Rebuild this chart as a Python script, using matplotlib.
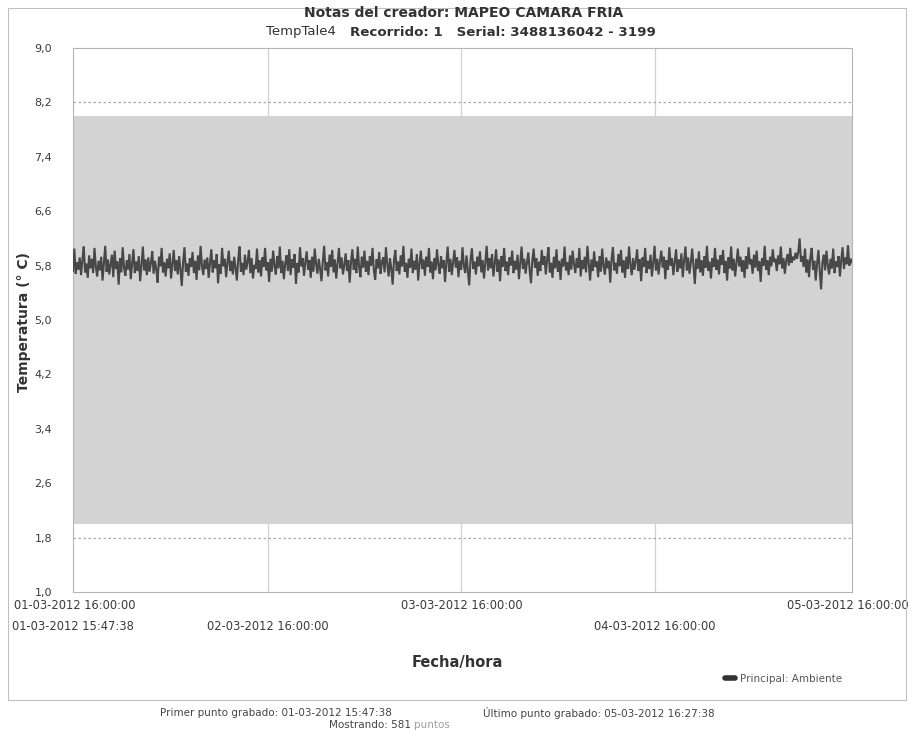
import matplotlib
matplotlib.use("Agg")
import matplotlib.pyplot as plt
import matplotlib.patches as mpatches
from matplotlib.lines import Line2D
import pandas as pd

# ---------------- data ----------------
start_time = "2012-03-01 15:47:38"
end_time = "2012-03-05 16:27:38"
interval = "10min"

seg1 = [5.72, 6.05, 5.68, 5.85, 5.74, 5.92, 5.66, 5.88, 6.08, 5.70, 5.83, 5.62, 5.95, 5.76, 5.90, 5.69, 6.06, 5.78, 5.64, 5.87,
        5.73, 5.93, 5.58, 5.84, 6.09, 5.71, 5.89, 5.67, 5.81, 5.96, 5.63, 6.02, 5.75, 5.86, 5.52, 5.91, 5.70, 6.07, 5.77, 5.65,
        5.88, 5.74, 5.97, 5.60, 5.83, 6.04, 5.69, 5.86, 5.72, 5.94, 5.57, 5.80, 6.08, 5.73, 5.89, 5.66, 5.92, 5.71, 5.84, 6.01,
        5.68, 5.87, 5.75, 5.55, 5.93, 5.79, 6.06, 5.70, 5.85, 5.64, 5.90, 5.76, 5.98, 5.61, 5.82, 6.03, 5.72, 5.88, 5.67, 5.94,
        5.74, 5.50, 5.86, 6.07, 5.71, 5.83, 5.65, 5.91, 5.78, 6.00, 5.69, 5.87, 5.59, 5.95, 5.73, 6.09, 5.80, 5.66, 5.89, 5.75,
        5.92, 5.62, 5.84, 6.04, 5.70, 5.88, 5.76, 5.97, 5.54, 5.82, 5.68, 6.06, 5.79, 5.90, 5.63, 5.85, 6.02, 5.72, 5.87, 5.67,
        5.93, 5.77, 5.58, 5.89, 6.08, 5.71, 5.84, 5.66, 5.96, 5.74, 5.86, 6.03, 5.69, 5.91, 5.61, 5.81, 5.75, 6.05, 5.70, 5.88]
seg2 = [5.64, 5.92, 5.78, 6.06, 5.73, 5.85, 5.56, 5.90, 5.71, 6.02, 5.80, 5.67, 5.94, 5.76, 6.08, 5.69, 5.87, 5.60, 5.83, 5.95,
        5.72, 6.04, 5.66, 5.89, 5.77, 5.97, 5.53, 5.84, 5.70, 6.07, 5.79, 5.91, 5.65, 5.86, 6.01, 5.74, 5.88, 5.62, 5.93, 5.71,
        6.05, 5.82, 5.68, 5.90, 5.75, 5.57, 5.87, 6.09, 5.73, 5.85, 5.64, 5.96, 5.78, 6.03, 5.70, 5.89, 5.61, 5.84, 6.06, 5.76,
        5.92, 5.67, 5.81, 5.98, 5.72, 5.88, 5.55, 5.86, 6.04, 5.74, 5.90, 5.69, 6.08, 5.79, 5.63, 5.93, 5.77, 6.02, 5.71, 5.87,
        5.66, 5.94, 5.80, 6.06, 5.73, 5.59, 5.89, 5.76, 6.00, 5.68, 5.85, 5.92, 5.70, 6.07, 5.82, 5.64, 5.91, 5.75, 5.52, 5.88,
        6.03, 5.72, 5.86, 5.67, 5.95, 5.79, 6.09, 5.71, 5.84, 5.62, 5.90, 5.77, 6.05, 5.69, 5.87, 5.74, 5.97, 5.58, 5.83, 6.02,
        5.75, 5.89, 5.65, 5.93, 5.78, 6.06, 5.70, 5.86, 5.60, 5.91, 5.73, 6.04, 5.81, 5.68, 5.94, 5.76, 5.88, 5.56, 5.85, 6.08]
seg3 = [5.71, 5.90, 5.66, 5.84, 6.03, 5.77, 5.92, 5.63, 5.87, 5.74, 6.07, 5.80, 5.69, 5.95, 5.72, 5.51, 5.89, 6.05, 5.75, 5.86,
        5.67, 5.93, 5.79, 6.01, 5.70, 5.88, 5.61, 5.85, 6.09, 5.73, 5.91, 5.76, 5.97, 5.64, 5.83, 6.04, 5.71, 5.89, 5.57, 5.94,
        5.78, 6.06, 5.72, 5.86, 5.66, 5.92, 5.80, 6.02, 5.69, 5.87, 5.74, 5.96, 5.60, 5.84, 6.08, 5.75, 5.90, 5.68, 5.85, 5.99,
        5.73, 5.54, 5.88, 6.05, 5.77, 5.91, 5.65, 5.86, 5.72, 6.03, 5.81, 5.94, 5.67, 5.89, 6.07, 5.70, 5.84, 5.62, 5.93, 5.76,
        6.04, 5.71, 5.87, 5.59, 5.90, 5.79, 6.08, 5.73, 5.85, 5.66, 5.95, 5.74, 6.02, 5.82, 5.69, 5.91, 5.77, 6.06, 5.64, 5.88,
        5.75, 5.93, 5.70, 6.09, 5.83, 5.58, 5.89, 5.72, 6.01, 5.78, 5.86, 5.63, 5.94, 5.71, 6.05, 5.80, 5.67, 5.92, 5.76, 5.87,
        5.55, 5.90, 6.07, 5.73, 5.84, 5.68, 5.97, 5.79, 6.03, 5.70, 5.88, 5.62, 5.93, 5.75, 6.08, 5.81, 5.66, 5.91, 5.74, 5.86]
seg4 = [6.04, 5.72, 5.89, 5.57, 5.92, 5.78, 6.06, 5.69, 5.87, 5.75, 5.96, 5.64, 5.84, 6.09, 5.73, 5.90, 5.67, 5.86, 6.02, 5.77,
        5.93, 5.60, 5.88, 5.74, 6.07, 5.80, 5.91, 5.66, 5.85, 6.04, 5.71, 5.89, 5.76, 5.98, 5.63, 5.87, 6.08, 5.73, 5.92, 5.68,
        5.84, 6.05, 5.79, 5.53, 5.90, 5.75, 6.01, 5.70, 5.88, 5.65, 5.94, 5.77, 6.09, 5.72, 5.86, 5.61, 5.91, 5.78, 6.06, 5.74,
        5.89, 5.67, 5.95, 5.81, 6.03, 5.69, 5.87, 5.58, 5.92, 5.76, 6.08, 5.73, 5.90, 5.64, 5.85, 6.05, 5.79, 5.93, 5.71, 5.88,
        5.62, 5.94, 5.75, 6.07, 5.82, 5.89, 5.68, 5.96, 5.77, 6.02, 5.72, 5.86, 5.56, 5.91, 5.80, 6.09, 5.74, 5.88, 5.66, 5.93,
        5.79, 6.04, 5.85, 5.90, 5.72, 5.95, 5.82, 6.08, 5.76, 5.91, 5.68, 5.87, 5.97, 5.80, 6.06, 5.84, 5.93, 5.88, 5.99, 5.90,
        6.00, 6.20, 5.86, 5.94, 5.78, 6.05, 5.70, 5.89, 5.63, 5.92, 6.06, 5.74, 5.87, 5.58, 5.83, 6.03, 5.71, 5.45, 5.85, 5.96,
        5.73, 6.02, 5.80, 5.67, 5.90, 5.76, 6.05, 5.69, 5.86, 5.78, 5.94, 5.64, 5.88, 6.07, 5.75, 5.92, 5.82, 6.10, 5.80, 5.90,
        5.85]

temps = seg1 + seg2 + seg3 + seg4
times = pd.date_range(start_time, periods=len(temps), freq=interval)

band_low, band_high = 2.0, 8.0
alarm_low, alarm_high = 1.8, 8.2
y_ticks = [1.0, 1.8, 2.6, 3.4, 4.2, 5.0, 5.8, 6.6, 7.4, 8.2, 9.0]
y_tick_labels = ["1,0", "1,8", "2,6", "3,4", "4,2", "5,0", "5,8", "6,6", "7,4", "8,2", "9,0"]

row1_ticks = ["2012-03-01 16:00:00", "2012-03-03 16:00:00", "2012-03-05 16:00:00"]
row1_labels = ["01-03-2012 16:00:00", "03-03-2012 16:00:00", "05-03-2012 16:00:00"]
row2_ticks = ["2012-03-01 15:47:38", "2012-03-02 16:00:00", "2012-03-04 16:00:00"]
row2_labels = ["01-03-2012 15:47:38", "02-03-2012 16:00:00", "04-03-2012 16:00:00"]
grid_days = ["2012-03-02 16:00:00", "2012-03-03 16:00:00", "2012-03-04 16:00:00"]

title_line1 = "Notas del creador: MAPEO CAMARA FRIA"
title_device = "TempTale4"
title_rest = "Recorrido: 1   Serial: 3488136042 - 3199"
series_name = "Principal: Ambiente"
footer_first = "Primer punto grabado: 01-03-2012 15:47:38"
footer_last = "Último punto grabado: 05-03-2012 16:27:38"
footer_count = "Mostrando: 581 "
footer_unit = "puntos"

# ---------------- figure ----------------
W, H = 914, 732
fig = plt.figure(figsize=(W / 100, H / 100), dpi=100)
fig.patch.set_facecolor("white")

def fx(px):
    return px / W

def fy(py):
    return 1 - py / H

ax = fig.add_axes([fx(73), fy(592), fx(852) - fx(73), fy(48) - fy(592)])
ax.set_facecolor("white")

ax.axhspan(band_low, band_high, color="#d3d3d3", zorder=1, lw=0)
for yv in (alarm_low, alarm_high):
    ax.axhline(yv, color="#a8a8a8", lw=0.9, ls=(0, (2, 2)), zorder=1.5)
for d in grid_days:
    ax.axvline(pd.Timestamp(d), color="#d0d0d0", lw=0.9, zorder=0.5)

ax.plot(times, temps, color="#484848", lw=1.5, zorder=3, solid_joinstyle="miter")

ax.set_xlim(pd.Timestamp(start_time), pd.Timestamp(end_time))
ax.set_ylim(1.0, 9.0)

ax.set_yticks(y_ticks)
ax.set_yticklabels(y_tick_labels)
ax.tick_params(axis="y", length=0, pad=15, labelsize=8, labelcolor="#3a3a3a")

ax.set_xticks([pd.Timestamp(t) for t in row1_ticks])
ax.set_xticklabels(row1_labels)
ax.set_xticks([pd.Timestamp(t) for t in row2_ticks], minor=True)
ax.set_xticklabels(row2_labels, minor=True)
ax.tick_params(axis="x", which="major", length=0, pad=5, labelsize=8.3, labelcolor="#3a3a3a")
ax.tick_params(axis="x", which="minor", length=0, pad=20, labelsize=8.3, labelcolor="#3a3a3a")

for sp in ax.spines.values():
    sp.set_color("#b5b5b5")
    sp.set_linewidth(0.8)

fig.text(fx(24), fy(322), "Temperatura (° C)", rotation=90, ha="center", va="center",
         fontsize=10, fontweight="bold", color="#333333")
fig.text(fx(457), fy(662), "Fecha/hora", ha="center", va="center",
         fontsize=10.5, fontweight="bold", color="#333333")

fig.text(fx(464), fy(13), title_line1, ha="center", va="center", fontsize=10,
         fontweight="bold", color="#333333")
fig.text(fx(336), fy(32), title_device, ha="right", va="center", fontsize=9.5,
         color="#333333")
fig.text(fx(350), fy(32), title_rest, ha="left", va="center", fontsize=9.6,
         fontweight="bold", color="#333333")

handle = Line2D([], [], color="#333333", lw=4, solid_capstyle="round")
fig.legend([handle], [series_name], loc="center right", bbox_to_anchor=(fx(852), fy(679)),
           frameon=False, fontsize=7.5, handlelength=1.0, handletextpad=0.5,
           labelcolor="#555555")

fig.text(fx(276), fy(713), footer_first, ha="center", va="center", fontsize=7.5, color="#444444")
fig.text(fx(599), fy(713), footer_last, ha="center", va="center", fontsize=7.5, color="#444444")
fig.text(fx(414), fy(725), footer_count, ha="right", va="center", fontsize=7.5, color="#444444")
fig.text(fx(414), fy(725), footer_unit, ha="left", va="center", fontsize=7.5, color="#a0a0a0")

frame = mpatches.Rectangle((fx(8), fy(700)), fx(906) - fx(8), fy(8) - fy(700),
                           transform=fig.transFigure, fill=False, edgecolor="#c0c0c0", lw=0.8)
fig.patches.append(frame)

fig.savefig("out.png", dpi=100)
